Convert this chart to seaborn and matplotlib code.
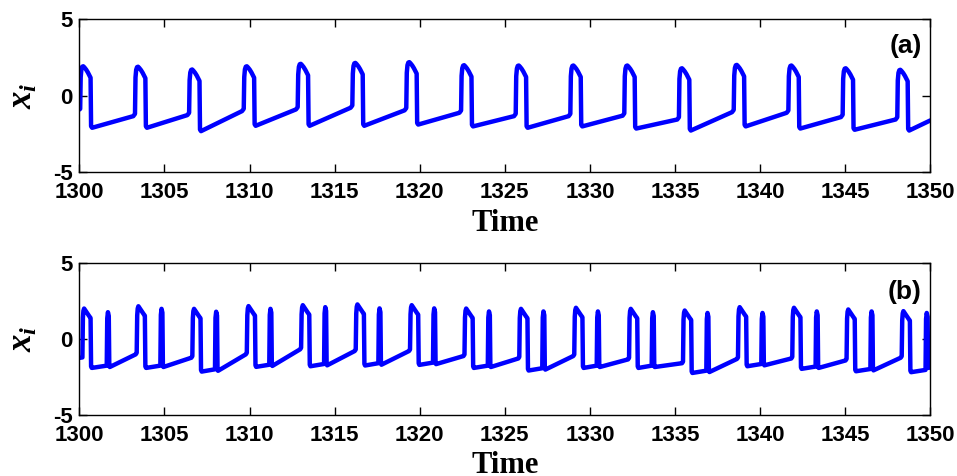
import numpy as np
import pandas as pd
import matplotlib
matplotlib.use("Agg")
import matplotlib.pyplot as plt
import seaborn as sns

# ---------------- data ----------------
# Panel (a): one broad spike per cycle
a_start = (1300.0, -0.9)
a_rise = [1300.05, 1303.27, 1306.45, 1309.66, 1312.83, 1316.04, 1319.21, 1322.43,
          1325.64, 1328.85, 1332.02, 1335.23, 1338.45, 1341.66, 1344.85, 1348.06]
a_pre = [-0.85, -1.18, -1.11, -0.85, -0.74, -0.63, -0.80, -0.96,
         -1.18, -1.18, -1.15, -1.40, -0.92, -0.96, -1.24, -1.40]
a_peak = [1.93, 1.90, 1.72, 1.93, 2.09, 2.15, 2.20, 2.00,
          1.98, 1.98, 1.98, 1.80, 2.02, 1.98, 1.80, 1.70]
a_trough = [-2.09, -2.09, -2.31, -1.96, -1.96, -1.96, -1.88, -2.00,
            -2.09, -2.00, -2.14, -2.27, -2.00, -2.14, -2.22, -2.27]
a_end = (1350.0, -1.61)

# Panel (b): a broad spike followed by a narrow spike each cycle
b_start = (1300.0, -1.25)
b_rise = [1300.18, 1303.37, 1306.64, 1309.84, 1313.03, 1316.24, 1319.43, 1322.63,
          1325.85, 1329.08, 1332.30, 1335.47, 1338.70, 1341.89, 1345.08, 1348.32]
b_pre = [-1.22, -0.92, -1.14, -0.92, -0.59, -0.70, -0.70, -1.03,
         -1.19, -1.03, -1.25, -1.50, -1.22, -1.19, -1.32, -1.14]
b_peak = [1.99, 2.14, 1.97, 2.15, 2.21, 2.26, 2.21, 1.99,
          1.97, 2.04, 1.97, 1.86, 2.08, 2.04, 1.93, 1.82]
b_trough = [-1.91, -1.91, -2.15, -1.84, -1.80, -1.75, -1.71, -1.91,
            -2.08, -1.91, -1.91, -2.24, -1.80, -1.97, -2.13, -2.19]
n_rise = [1301.61, 1304.76, 1307.97, 1311.16, 1314.38, 1317.57, 1320.78, 1324.00,
          1327.20, 1330.40, 1333.63, 1336.84, 1340.07, 1343.26, 1346.48, 1349.72]
n_pre = [-1.76, -1.76, -2.00, -1.70, -1.65, -1.60, -1.56, -1.76,
         -1.93, -1.76, -1.76, -2.09, -1.65, -1.82, -1.98, -2.04]
n_peak = [1.75, 1.97, 1.78, 1.97, 2.08, 2.00, 2.00, 1.80,
          1.80, 1.80, 1.75, 1.70, 1.70, 1.80, 1.80, 1.70]
n_trough = [-1.85, -1.85, -2.10, -1.78, -1.74, -1.70, -1.66, -1.85,
            -2.02, -1.85, -1.85, -2.18, -1.74, -1.91, -2.07, -1.91]
b_end = (1350.0, -1.85)

# spike outline: time offset from rise, value offset from peak
broad_a_dt = [-0.10, 0.0, 0.03, 0.07, 0.12, 0.18, 0.25, 0.35, 0.45, 0.55, 0.61, 0.64, 0.70]
broad_a_dv = ["P+0.15", None, -0.7, -0.2, -0.03, 0.0, -0.08, -0.22, -0.4, -0.62, -0.75, "T+0.1", "T"]
broad_b_dt = [-0.06, 0.0, 0.03, 0.06, 0.10, 0.16, 0.28, 0.40, 0.48, 0.51, 0.55]
broad_b_dv = ["P+0.1", None, -0.6, -0.15, 0.0, -0.1, -0.3, -0.5, -0.62, "T+0.1", "T"]
narrow_dt = [0.0, 0.03, 0.07, 0.12, 0.15, 0.18]
narrow_dv = [None, -0.4, 0.0, -0.25, "T+0.1", "T"]


def spike(t, v, r, pre, peak, trough, dts, dvs):
    for dt, dv in zip(dts, dvs):
        t.append(r + dt)
        if dv is None:
            v.append(pre)
        elif dv == "T":
            v.append(trough)
        elif dv == "T+0.1":
            v.append(trough + 0.1)
        elif isinstance(dv, str) and dv.startswith("P+"):
            v.append(pre - float(dv[2:]))
        else:
            v.append(peak + dv)


def trace_a():
    t, v = [a_start[0]], [a_start[1]]
    for i in range(len(a_rise)):
        dts, dvs = (broad_a_dt, broad_a_dv) if i > 0 else (broad_a_dt[1:], broad_a_dv[1:])
        spike(t, v, a_rise[i], a_pre[i], a_peak[i], a_trough[i], dts, dvs)
    t.append(a_end[0]); v.append(a_end[1])
    return t, v


def trace_b():
    t, v = [b_start[0]], [b_start[1]]
    for i in range(len(b_rise)):
        dts, dvs = (broad_b_dt, broad_b_dv) if i > 0 else (broad_b_dt[1:], broad_b_dv[1:])
        spike(t, v, b_rise[i], b_pre[i], b_peak[i], b_trough[i], dts, dvs)
        spike(t, v, n_rise[i], n_pre[i], n_peak[i], n_trough[i], narrow_dt, narrow_dv)
    t.append(b_end[0]); v.append(b_end[1])
    return t, v


x_ticks = [1300, 1305, 1310, 1315, 1320, 1325, 1330, 1335, 1340, 1345, 1350]
y_ticks = [-5, 0, 5]
panel_labels = ["(a)", "(b)"]

# ---------------- drawing ----------------
sns.set_style("ticks")
plt.rcParams["font.family"] = ["Liberation Sans", "DejaVu Sans"]
plt.rcParams["mathtext.fontset"] = "custom"
plt.rcParams["mathtext.it"] = "Liberation Serif:italic:bold"
plt.rcParams["mathtext.rm"] = "Liberation Serif:bold"
for k in ["text.color", "axes.labelcolor", "xtick.color", "ytick.color", "axes.edgecolor"]:
    plt.rcParams[k] = "black"

fig = plt.figure(figsize=(9.57, 4.76), dpi=100)
ax_a = fig.add_axes([0.0829, 0.638, 0.8892, 0.3215])
ax_b = fig.add_axes([0.0829, 0.1282, 0.8892, 0.3199])

for ax, (t, v), lab, ly in [(ax_a, trace_a(), panel_labels[0], 0.825),
                            (ax_b, trace_b(), panel_labels[1], 0.81)]:
    df = pd.DataFrame({"Time": t, "x": v})
    sns.lineplot(data=df, x="Time", y="x", sort=False, estimator=None,
                 color="#0000FF", linewidth=3.2, ax=ax)
    ax.set_xlim(1300, 1350)
    ax.set_ylim(-5, 5)
    ax.set_xticks(x_ticks)
    ax.set_yticks(y_ticks)
    ax.set_xticklabels([str(x) for x in x_ticks], fontsize=16, fontweight="bold")
    ax.set_yticklabels([str(y) for y in y_ticks], fontsize=16, fontweight="bold")
    ax.tick_params(direction="in", length=5.5, width=1, top=True, right=True,
                   colors="black")
    ax.tick_params(axis="x", pad=7)
    ax.tick_params(axis="y", pad=5)
    for s in ax.spines.values():
        s.set_visible(True)
        s.set_color("black")
        s.set_linewidth(1.0)
    ax.set_xlabel("Time", fontsize=22, fontweight="bold",
                  fontfamily="Liberation Serif", labelpad=4, color="black")
    ax.set_ylabel(r"$x_i$", fontsize=25, labelpad=10, color="black")
    ax.text(0.99, ly, lab, transform=ax.transAxes, ha="right", va="center",
            fontsize=19, fontweight="bold", color="black")

fig.savefig("out.png", dpi=100)
